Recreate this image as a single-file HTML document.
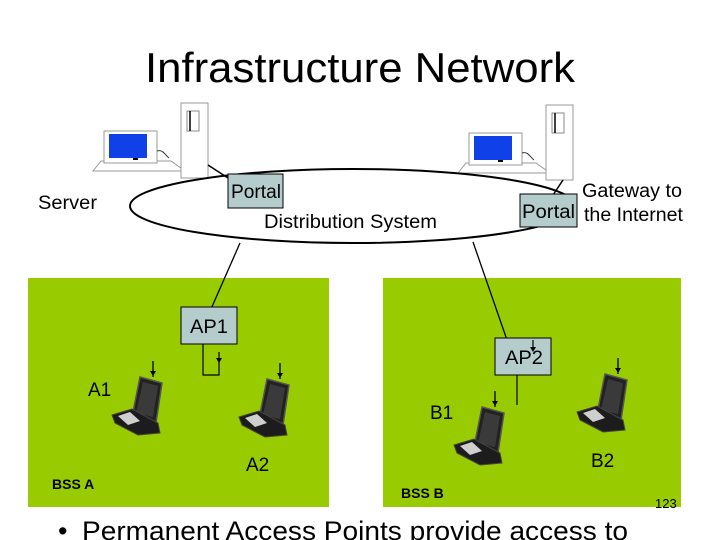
<!DOCTYPE html>
<html><head><meta charset="utf-8"><style>
html,body{margin:0;padding:0;background:#fff;}
svg{display:block;}
text{font-family:"Liberation Sans",Arial,sans-serif;}
</style></head><body>
<svg width="720" height="540" viewBox="0 0 720 540" xmlns="http://www.w3.org/2000/svg">
<defs>
<g id="lap">
  <line x1="41" y1="0" x2="41" y2="16" stroke="#000" stroke-width="1.3"/>
  <path d="M38 10 L44 10 L41 15 Z" fill="#000"/>
  <path d="M28 16 L50 22 L44 62 L20 56 Z" fill="#222" stroke="#555" stroke-width="1.5"/>
  <path d="M31 21 L46 25 L41 56 L24 52 Z" fill="#3a3a3a"/>
  <path d="M0 54 L20 48 L46 62 L48 72 L26 74 L3 62 Z" fill="#1c1c1c" stroke="#444" stroke-width="1"/>
  <path d="M6 55 L18 51 L28 60 L16 64 Z" fill="#cfcfcf"/>
</g>
<g id="pc">
  <path d="M0 40 L8 30 L78 30 L92 40 Z" fill="#fff" stroke="#999" stroke-width="1"/>
  <rect x="11" y="0" width="53" height="32" fill="#fff" stroke="#999"/>
  <rect x="16" y="3" width="38" height="24" fill="#1040e8"/>
  <rect x="40" y="27" width="5" height="2" fill="#000"/>
  <path d="M64 20 C70 18 72 24 76 27" fill="none" stroke="#333"/>
  <rect x="88" y="-28" width="27" height="75" fill="#fff" stroke="#999"/>
  <rect x="94" y="-20" width="12" height="20" fill="#fff" stroke="#888"/>
  <line x1="97" y1="-20" x2="97" y2="0" stroke="#000" stroke-width="1.5"/>
</g>
</defs>
<text x="145" y="82" font-size="42" textLength="430" lengthAdjust="spacingAndGlyphs">Infrastructure Network</text>

<use href="#pc" x="93" y="131"/>
<use href="#pc" x="458" y="133"/>

<rect x="28" y="278" width="301" height="229" fill="#99cc00"/>
<rect x="383" y="278" width="298" height="229" fill="#99cc00"/>

<ellipse cx="353" cy="206" rx="223" ry="37" fill="none" stroke="#000" stroke-width="2"/>
<line x1="208" y1="165" x2="228" y2="178" stroke="#000" stroke-width="1.5"/>
<line x1="563" y1="180" x2="553" y2="195" stroke="#000" stroke-width="1.5"/>
<line x1="240" y1="243" x2="211" y2="309" stroke="#000" stroke-width="1.3"/>
<line x1="473" y1="242" x2="507" y2="340" stroke="#000" stroke-width="1.3"/>

<rect x="228" y="174" width="55" height="34" fill="#b4cccc" stroke="#000"/>
<text x="231" y="198" font-size="19" textLength="50" lengthAdjust="spacingAndGlyphs">Portal</text>
<rect x="520" y="194" width="57" height="33" fill="#b4cccc" stroke="#000"/>
<text x="522" y="218" font-size="19" textLength="53" lengthAdjust="spacingAndGlyphs">Portal</text>

<text x="38" y="209" font-size="19" textLength="59" lengthAdjust="spacingAndGlyphs">Server</text>
<text x="264" y="228" font-size="19" textLength="173" lengthAdjust="spacingAndGlyphs">Distribution System</text>
<text x="582" y="197" font-size="19" textLength="100" lengthAdjust="spacingAndGlyphs">Gateway to</text>
<text x="584" y="221" font-size="19" textLength="99" lengthAdjust="spacingAndGlyphs">the Internet</text>

<rect x="181" y="307" width="56" height="37" fill="#b4cccc" stroke="#000"/>
<text x="190" y="333" font-size="19" textLength="38" lengthAdjust="spacingAndGlyphs">AP1</text>
<path d="M203 344 V375 H219 V352" fill="none" stroke="#000" stroke-width="1.2"/>
<path d="M216 358 L222 358 L219 363 Z" fill="#000"/>

<rect x="495" y="338" width="56" height="37" fill="#b4cccc" stroke="#000"/>
<text x="505" y="364" font-size="19" textLength="38" lengthAdjust="spacingAndGlyphs">AP2</text>
<line x1="517" y1="375" x2="517" y2="405" stroke="#000" stroke-width="1.2"/>
<line x1="533" y1="340" x2="533" y2="350" stroke="#000" stroke-width="1.2"/>
<path d="M530 347 L536 347 L533 352 Z" fill="#000"/>

<use href="#lap" x="112" y="361"/>
<use href="#lap" x="239" y="363"/>
<use href="#lap" x="454" y="391"/>
<use href="#lap" x="577" y="358"/>

<text x="88" y="396" font-size="19">A1</text>
<text x="246" y="471" font-size="19">A2</text>
<text x="430" y="419" font-size="19">B1</text>
<text x="591" y="467" font-size="19">B2</text>
<text x="52" y="489" font-size="14" font-weight="bold">BSS A</text>
<text x="401" y="498" font-size="14" font-weight="bold">BSS B</text>
<text x="655" y="508" font-size="13">123</text>

<text x="58" y="540" font-size="27">•</text>
<text x="82" y="540" font-size="27" textLength="546" lengthAdjust="spacingAndGlyphs">Permanent Access Points provide access to</text>
</svg>
</body></html>
